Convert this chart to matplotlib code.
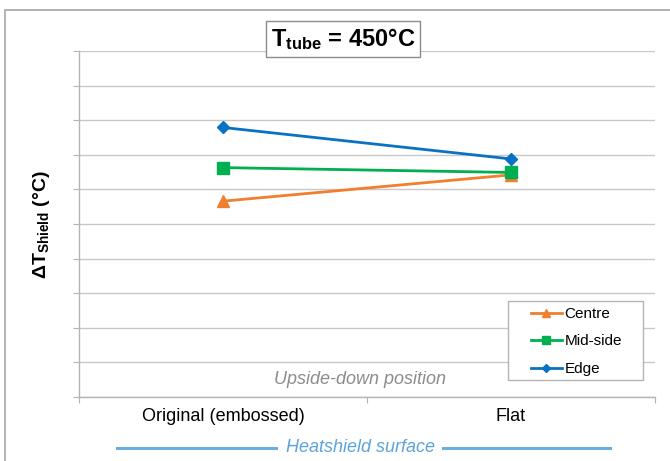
from matplotlib import pyplot
from matplotlib.patches import Rectangle
from matplotlib.lines import Line2D

categories = ["Original (embossed)", "Flat"]
centre = [5.66, 6.42]
mid_side = [6.63, 6.49]
edge = [7.79, 6.88]

pyplot.rcParams["font.family"] = ["Liberation Sans", "DejaVu Sans"]
pyplot.rcParams["mathtext.fontset"] = "custom"
pyplot.rcParams["mathtext.rm"] = "Liberation Sans"
pyplot.rcParams["mathtext.bf"] = "Liberation Sans:bold"
pyplot.rcParams["mathtext.it"] = "Liberation Sans:italic"

W, H = 670, 461
fig = pyplot.figure(
    figsize=(W / 100, H / 100),
    dpi=100,
)


def fx(px):
    return px / W


def fy(py):
    return 1 - py / H


ax = fig.add_axes(
    [fx(79), fy(397), fx(655) - fx(79), fy(51) - fy(397)],
)
x = list(range(len(categories)))
ax.plot(
    x, centre,
    color="#F07F2E", lw=2, marker="^", markersize=8,
    label="Centre", zorder=3,
)
ax.plot(
    x, mid_side,
    color="#00B050", lw=2, marker="s", markersize=8,
    label="Mid-side", zorder=4,
)
ax.plot(
    x, edge,
    color="#0A72C2", lw=2, marker="D", markersize=6.5,
    label="Edge", zorder=5,
)
ax.set_xlim(-0.5, 1.5)
ax.set_ylim(0, 10)
ax.set_yticks(range(0, 11))
ax.set_yticklabels([])
ax.yaxis.grid(True, color="#c8c8c8", lw=1)
ax.set_axisbelow(True)
ax.set_xticks([-0.5, 0.5, 1.5])
ax.set_xticklabels([])
ax.set_xticks(x, minor=True)
ax.set_xticklabels(categories, minor=True, fontsize=13)
ax.tick_params(axis="x", which="minor", length=0, pad=8)
ax.tick_params(axis="both", which="major", length=4, color="#b4b4b4", direction="out")
for side in ["top", "right"]:
    ax.spines[side].set_visible(False)
for side in ["left", "bottom"]:
    ax.spines[side].set_color("#b4b4b4")
    ax.spines[side].set_linewidth(1)

# legend frame drawn separately so the padding can be wider than tall
ax.add_patch(
    Rectangle(
        (fx(508), fy(380)), fx(643) - fx(508), fy(301) - fy(380),
        transform=fig.transFigure, fc="white",
        ec="#b4b4b4", lw=1, zorder=6, clip_on=False,
    )
)
leg = ax.legend(
    loc="upper left",
    bbox_to_anchor=(fx(531), fy(307)),
    bbox_transform=fig.transFigure,
    fontsize=11,
    frameon=False,
    borderaxespad=0,
    borderpad=0,
    handlelength=2.0,
    handletextpad=0.2,
    labelspacing=0.88,
    markerscale=0.7,
)
leg.set_zorder(7)

fig.text(
    fx(360), fy(379), "Upside-down position",
    ha="center", va="center", style="italic",
    fontsize=13, color="#8c8c8c",
)
fig.text(
    fx(360), fy(447), "Heatshield surface",
    ha="center", va="center", style="italic",
    fontsize=13, color="#5BA3D9",
)
for x0, x1 in [(117, 276), (443, 610)]:
    fig.add_artist(
        Line2D(
            [fx(x0), fx(x1)], [fy(448), fy(448)],
            transform=fig.transFigure, color="#6AAEDC", lw=2.2,
        )
    )
fig.text(
    fx(42), fy(225), r"$\mathbf{\Delta T_{Shield}}$ (°C)",
    ha="center", va="center", rotation=90,
    fontsize=14, fontweight="bold",
)
fig.text(
    fx(343), fy(39), r"$\mathbf{T_{tube}}$ = 450°C",
    ha="center", va="center",
    fontsize=17, fontweight="bold",
    bbox=dict(boxstyle="square,pad=0.2", fc="white", ec="#8c8c8c", lw=1),
)
fig.add_artist(
    Rectangle(
        (fx(5), fy(480)), fx(700), fy(10) - fy(480),
        transform=fig.transFigure, fill=False,
        ec="#a6a6a6", lw=1.2,
    )
)
fig.savefig("out.png", dpi=100)
